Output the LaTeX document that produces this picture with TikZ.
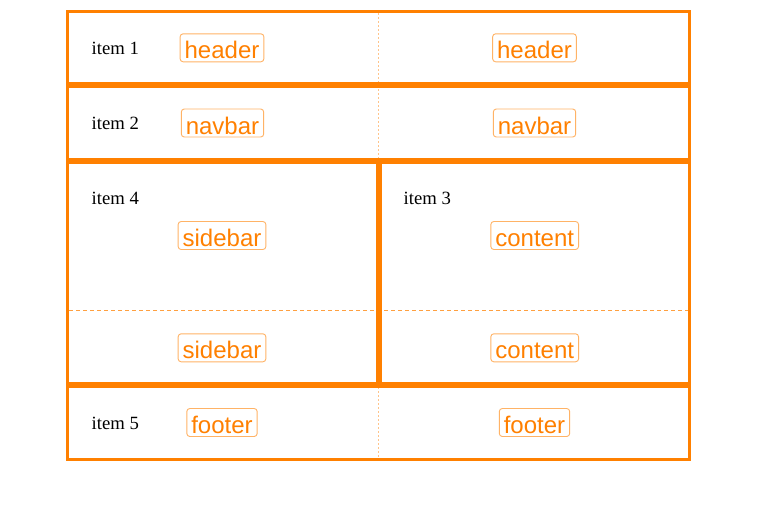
\documentclass[tikz,border=0pt]{standalone}
\usepackage{fontspec}
\setmainfont{Liberation Serif}
\newfontfamily\labsans{Liberation Sans}
\definecolor{mainorange}{HTML}{FF8000}
\definecolor{labborder}{HTML}{FFB366}
\definecolor{dotorange}{HTML}{FFC48A}
\definecolor{dashorange}{HTML}{FFA040}
\begin{document}
\begin{tikzpicture}[x=1pt,y=-1pt,
  itembox/.style={draw=mainorange,line width=3pt,inner sep=0pt,outer sep=0pt},
  lab/.style={draw=labborder,line width=0.9pt,rounded corners=3pt,text=mainorange,
    font=\labsans\fontsize{24}{28}\selectfont,inner xsep=4.5pt,inner ysep=1pt,
    text height=24pt,text depth=2pt},
  itemtxt/.style={anchor=base west,font=\fontsize{18.7}{22}\selectfont,inner sep=0pt},
  vdot/.style={draw=dotorange,line width=0.8pt,dash pattern=on 2pt off 2pt},
  hdash/.style={draw=dashorange,line width=0.8pt,dash pattern=on 4pt off 3pt}]
\useasboundingbox (0,0) rectangle (766,517);
\fill[white] (0,0) rectangle (766,517);
% grid lines
\coordinate (v1a) at (378.5,13);
\coordinate (v1b) at (378.5,158);
\coordinate (v2a) at (378.5,387);
\coordinate (v2b) at (378.5,458);
\coordinate (ha) at (69,310);
\coordinate (hb) at (688,310);
\draw[vdot] (v1a) -- (v1b);
\draw[vdot] (v2a) -- (v2b);
\draw[hdash] (ha) -- (hb);
% item boxes
\node[itembox,minimum width=622pt,minimum height=72.3pt] (box1) at (378.5,47.65) {};
\node[itembox,minimum width=622pt,minimum height=72.2pt] (box2) at (378.5,122.9) {};
\node[itembox,minimum width=309.5pt,minimum height=221pt] (box4) at (222.25,272.5) {};
\node[itembox,minimum width=309.5pt,minimum height=221pt] (box3) at (534.75,272.5) {};
\node[itembox,minimum width=622pt,minimum height=73.5pt] (box5) at (378.5,422.75) {};
% item texts
\node[itemtxt] (t1) at (91.5,54.5) {item 1};
\node[itemtxt] (t2) at (91.5,129.5) {item 2};
\node[itemtxt] (t4) at (91.5,204.3) {item 4};
\node[itemtxt] (t3) at (403.5,204.3) {item 3};
\node[itemtxt] (t5) at (91.5,429.5) {item 5};
% labels
\node[lab] (h1) at (222,47.8) {header};
\node[lab] (h2) at (534.5,47.8) {header};
\node[lab] (n1) at (222.5,123) {navbar};
\node[lab] (n2) at (534.5,123) {navbar};
\node[lab] (s1) at (222,235.5) {sidebar};
\node[lab] (c1) at (534.7,235.5) {content};
\node[lab] (s2) at (222,347.8) {sidebar};
\node[lab] (c2) at (534.7,347.8) {content};
\node[lab] (f1) at (222,422.5) {footer};
\node[lab] (f2) at (534.5,422.5) {footer};
\end{tikzpicture}
\end{document}
